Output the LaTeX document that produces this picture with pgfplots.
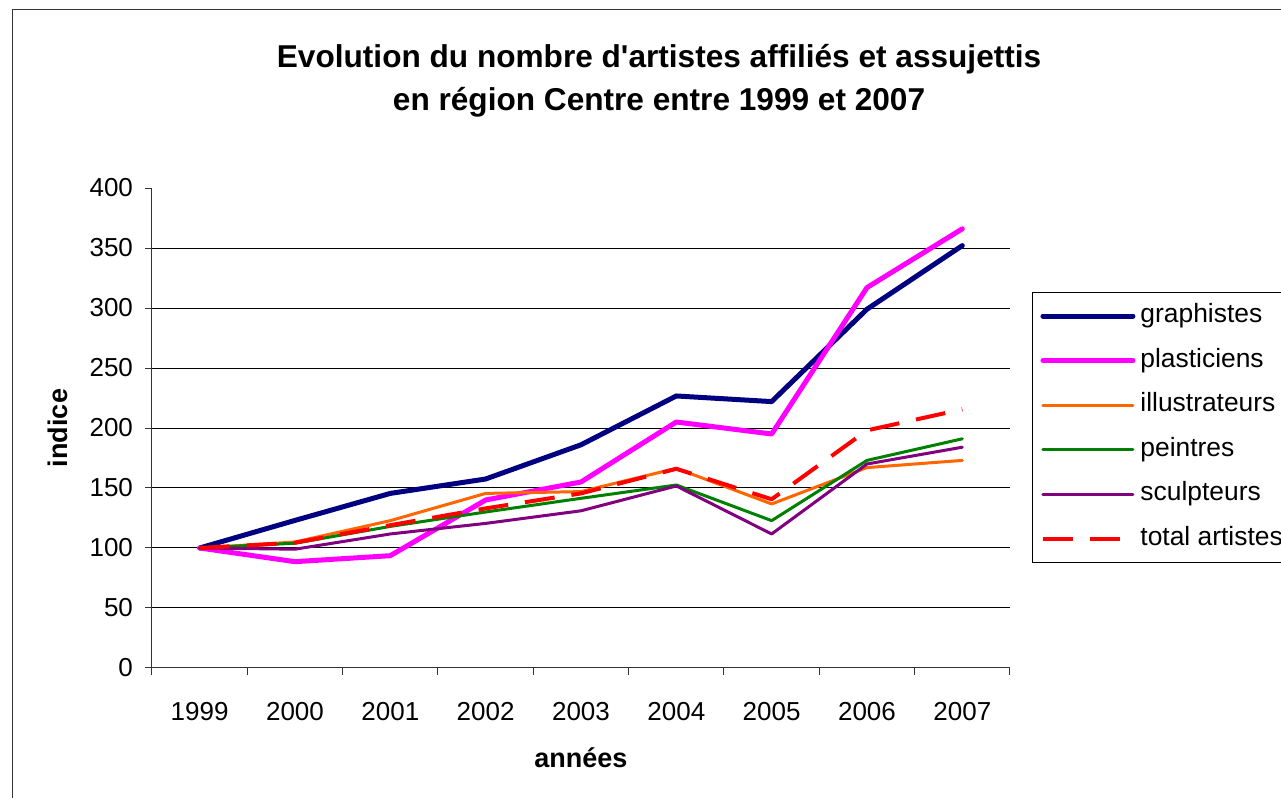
\documentclass[border=0pt]{standalone}
\usepackage{fontspec}
\setmainfont{Liberation Sans}
\usepackage{pgfplots}
\usepackage{pgfplotstable}
\pgfplotsset{compat=1.18}

\definecolor{cgraph}{RGB}{0,0,128}
\definecolor{cplast}{RGB}{255,0,255}
\definecolor{cillus}{RGB}{255,102,0}
\definecolor{cpeint}{RGB}{0,128,0}
\definecolor{csculp}{RGB}{128,0,128}
\definecolor{ctotal}{RGB}{255,0,0}

% indice base 100 en 1999
\pgfplotstableread{
x graph plast illus peint sculp total
0 100   100   100   100   100   100
1 123   88.6  105   104   99    104.4
2 145.5 93.6  122.8 118   111.7 119
3 157.5 140   145.5 130   120.5 133
4 186   155   147   141.4 131   145.5
5 226.7 205   166.4 152.5 151.7 166
6 222   195   136.7 122.8 111.7 140.6
7 299   317   167   173   170   198
8 352   366   173   191   184   215.6
}\data

\begin{document}
\begin{tikzpicture}
\useasboundingbox (0,0) rectangle (640.5pt,399pt);
\draw[line width=0.5pt, black!80] (6pt,-10pt) rectangle (660pt,394pt);
\begin{axis}[
	at={(76pt,65pt)}, anchor=south west,
	scale only axis,
	width=429pt, height=240pt,
	xmin=-0.5, xmax=8.5,
	ymin=0, ymax=400,
	axis x line*=bottom, axis y line*=left,
	axis line style={line width=0.5pt, black!80},
	xtick={-0.5,0.5,...,8.5},
	xticklabels={},
	extra x ticks={0,...,8},
	extra x tick labels={1999,2000,2001,2002,2003,2004,2005,2006,2007},
	extra x tick style={major tick length=0pt, xticklabel style={yshift=-13.5pt}},
	ytick={0,50,...,400},
	major tick length=3.5pt,
	tick align=outside,
	tick style={line width=0.5pt, black!80},
	extra y ticks={50,100,...,350},
	extra y tick labels={},
	extra y tick style={grid=major, major tick length=0pt},
	major grid style={line width=0.5pt, black},
	tick label style={font=\fontsize{13}{15}\selectfont},
	yticklabel style={xshift=-2.5pt},
	/pgf/number format/assume math mode=true,
	xlabel={années},
	ylabel={indice},
	label style={font=\bfseries\fontsize{13.5}{16}\selectfont},
	xlabel style={at={(axis description cs:0.5,-0.1875)}, anchor=center},
	ylabel style={at={(axis description cs:-0.1096,0.5)}, anchor=center},
	title={Evolution du nombre d\textquotesingle artistes affiliés et assujettis\\en région Centre entre 1999 et 2007},
	title style={at={(axis description cs:0.591,1.198)}, anchor=center, align=center,
		font=\bfseries\fontsize{15.8}{21.5}\selectfont},
	legend style={at={(rel axis cs:1.0256,0.7833)}, anchor=north west,
		draw=black, line width=0.5pt, fill=white,
		inner xsep=4pt, inner ysep=5.5pt,
		row sep=9.75pt, column sep=2.5pt,
		nodes={inner sep=0pt, text height=9.5pt, text depth=3pt},
		font=\fontsize{13.2}{16}\selectfont},
	legend cell align=left,
	legend image code/.code={\draw[#1] (0pt,0pt) -- (45pt,0pt);},
	every axis plot/.append style={line join=round, line cap=round},
]
\addplot[cgraph, line width=2.5pt] table[x=x, y=graph] {\data};
\addlegendentry{graphistes}
\addplot[cplast, line width=2.5pt] table[x=x, y=plast] {\data};
\addlegendentry{plasticiens}
\addplot[cillus, line width=1.5pt] table[x=x, y=illus] {\data};
\addlegendentry{illustrateurs}
\addplot[cpeint, line width=1.5pt] table[x=x, y=peint] {\data};
\addlegendentry{peintres}
\addplot[csculp, line width=1.5pt] table[x=x, y=sculp] {\data};
\addlegendentry{sculpteurs}
\addplot[ctotal, line width=2pt, line cap=butt, dash pattern=on 15pt off 8.5pt] table[x=x, y=total] {\data};
\addlegendentry{total artistes}
\end{axis}
\end{tikzpicture}
\end{document}
